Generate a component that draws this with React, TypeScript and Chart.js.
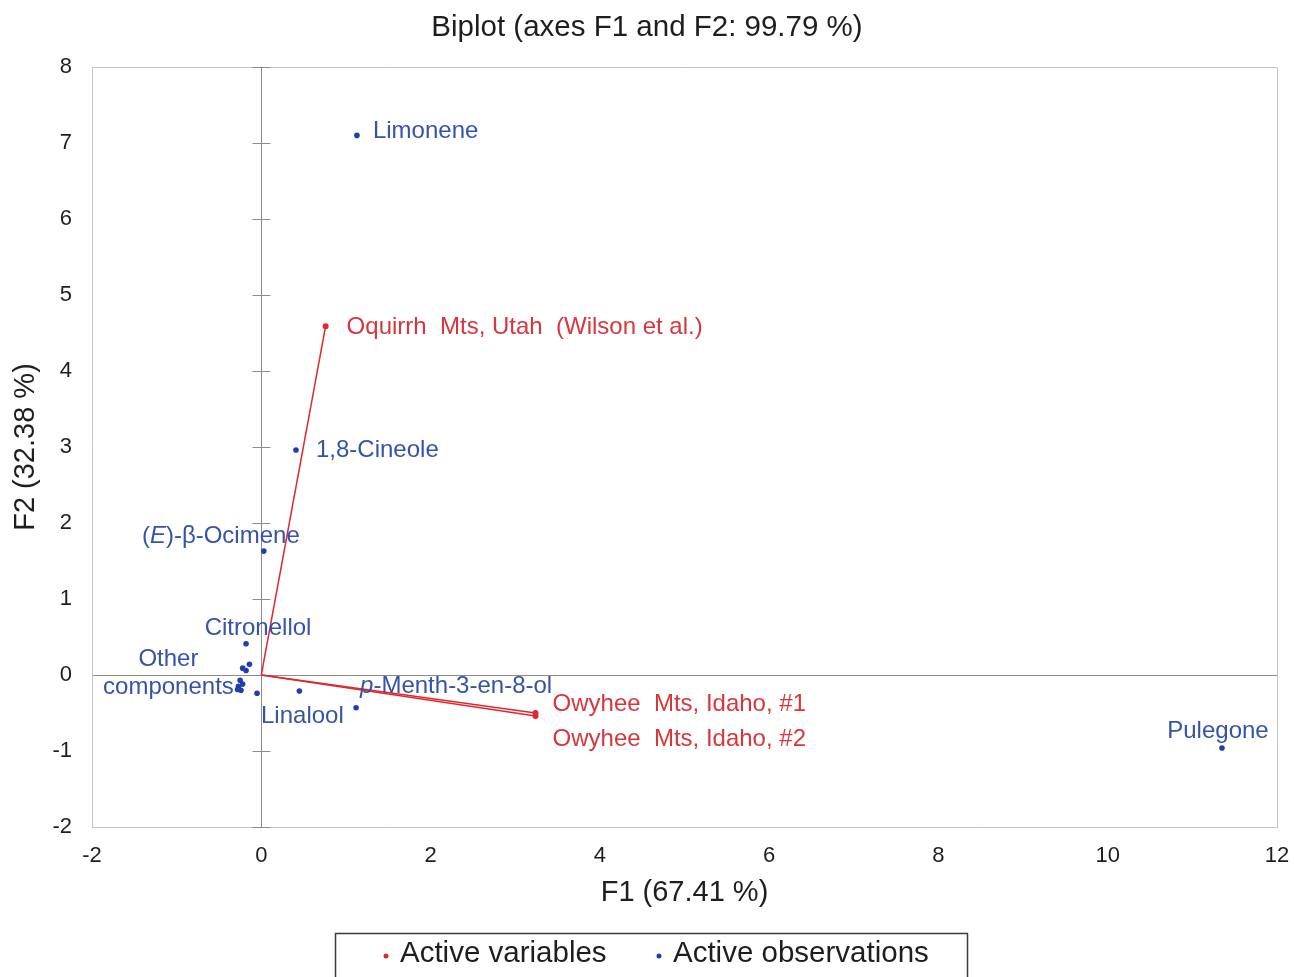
import React, { useEffect, useRef } from "react";
import { Chart, registerables } from "chart.js";

Chart.register(...registerables);

// ---------- data ----------
const chartTitle = "Biplot (axes F1 and F2: 99.79 %)";
const xAxisTitle = "F1 (67.41 %)";
const yAxisTitle = "F2 (32.38 %)";
const xMin = -2;
const xMax = 12;
const xStep = 2;
const yMin = -2;
const yMax = 8;
const yStep = 1;

const legendLabels = ["Active variables", "Active observations"];

const variableNames = [
  "Oquirrh  Mts, Utah  (Wilson et al.)",
  "Owyhee  Mts, Idaho, #1",
  "Owyhee  Mts, Idaho, #2",
];
const variableF1 = [0.76, 3.24, 3.24];
const variableF2 = [4.59, -0.5, -0.54];

const observationNames = [
  "Limonene",
  "1,8-Cineole",
  "(E)-β-Ocimene",
  "Citronellol",
  "Linalool",
  "p-Menth-3-en-8-ol",
  "Pulegone",
  "Other components",
  "",
  "",
  "",
  "",
  "",
  "",
  "",
  "",
];
const observationF1 = [1.13, 0.41, 0.03, -0.18, 0.45, 1.12, 11.35, -0.27, -0.14, -0.22, -0.18, -0.25, -0.24, -0.28, -0.22, -0.05];
const observationF2 = [7.1, 2.96, 1.63, 0.41, -0.21, -0.43, -0.96, -0.15, 0.14, 0.09, 0.06, -0.07, -0.2, -0.19, -0.12, -0.24];

// ---------- styles ----------
const FONT = "'Liberation Sans', Arial, sans-serif";
const RED = "#e0282e";
const RED_TEXT = "#d9363c";
const BLUE = "#1f3fb0";
const BLUE_TEXT = "#3553a8";
const TEXT = "#1e1e1e";
const AXIS_GREY = "#8c8c8c";
const FRAME_GREY = "#c4c4c4";

type LabelStyle = { dx: number; dy: number; align: CanvasTextAlign; italic?: [number, number]; lines?: string[] };
const labelStyles: Record<string, LabelStyle> = {
  "Oquirrh  Mts, Utah  (Wilson et al.)": { dx: 21, dy: 1, align: "left" },
  "Owyhee  Mts, Idaho, #1": { dx: 17, dy: -9, align: "left" },
  "Owyhee  Mts, Idaho, #2": { dx: 17, dy: 23, align: "left" },
  Limonene: { dx: 16, dy: -4, align: "left" },
  "1,8-Cineole": { dx: 20, dy: 0, align: "left" },
  "(E)-β-Ocimene": { dx: -43, dy: -15, align: "center", italic: [1, 2] },
  Citronellol: { dx: 12, dy: -15, align: "center" },
  Linalool: { dx: 3, dy: 25, align: "center" },
  "p-Menth-3-en-8-ol": { dx: 4, dy: -21, align: "left", italic: [0, 1] },
  Pulegone: { dx: -4, dy: -17, align: "center" },
  "Other components": { dx: -70, dy: -27, align: "center", lines: ["Other", "components"] },
};
const LABEL_FONT_SIZE = 24;

function drawRichText(
  ctx: CanvasRenderingContext2D,
  text: string,
  x: number,
  y: number,
  align: CanvasTextAlign,
  italic?: [number, number]
) {
  const normal = `${LABEL_FONT_SIZE}px ${FONT}`;
  const ital = `italic ${LABEL_FONT_SIZE}px ${FONT}`;
  const segs: { t: string; f: string }[] = [];
  if (italic) {
    segs.push({ t: text.slice(0, italic[0]), f: normal });
    segs.push({ t: text.slice(italic[0], italic[1]), f: ital });
    segs.push({ t: text.slice(italic[1]), f: normal });
  } else segs.push({ t: text, f: normal });
  let total = 0;
  for (const s of segs) {
    ctx.font = s.f;
    total += ctx.measureText(s.t).width;
  }
  let cx = align === "center" ? x - total / 2 : align === "right" ? x - total : x;
  ctx.textAlign = "left";
  ctx.textBaseline = "middle";
  for (const s of segs) {
    ctx.font = s.f;
    ctx.fillText(s.t, cx, y);
    cx += ctx.measureText(s.t).width;
  }
}

const decorPlugin = {
  id: "biplotDecor",
  beforeDatasetsDraw(chart: any) {
    const { ctx, chartArea: a, scales } = chart;
    const xs = scales.x;
    const ys = scales.y;
    ctx.save();
    ctx.strokeStyle = FRAME_GREY;
    ctx.lineWidth = 1;
    ctx.beginPath();
    ctx.moveTo(a.left, a.top + 0.5);
    ctx.lineTo(a.right + 0.5, a.top + 0.5);
    ctx.lineTo(a.right + 0.5, a.bottom);
    ctx.stroke();
    const x0 = Math.round(xs.getPixelForValue(0)) + 0.5;
    ctx.strokeStyle = AXIS_GREY;
    ctx.beginPath();
    for (let v = yMin; v <= yMax; v += yStep) {
      const py = Math.round(ys.getPixelForValue(v)) + 0.5;
      ctx.moveTo(x0 - 9, py);
      ctx.lineTo(x0 + 9, py);
    }
    ctx.stroke();
    ctx.restore();
  },
  afterDatasetsDraw(chart: any) {
    const { ctx, scales } = chart;
    const xs = scales.x;
    const ys = scales.y;
    ctx.save();
    variableNames.forEach((name, i) => {
      const st = labelStyles[name];
      if (!st) return;
      const px = xs.getPixelForValue(variableF1[i]);
      const py = ys.getPixelForValue(variableF2[i]);
      ctx.fillStyle = RED_TEXT;
      drawRichText(ctx, name, px + st.dx, py + st.dy, st.align, st.italic);
    });
    observationNames.forEach((name, i) => {
      if (!name) return;
      const st = labelStyles[name];
      if (!st) return;
      const px = xs.getPixelForValue(observationF1[i]);
      const py = ys.getPixelForValue(observationF2[i]);
      ctx.fillStyle = BLUE_TEXT;
      if (st.lines) {
        st.lines.forEach((ln, k) => {
          drawRichText(ctx, ln, px + st.dx, py + st.dy + k * 28, st.align);
        });
      } else {
        drawRichText(ctx, name, px + st.dx, py + st.dy, st.align, st.italic);
      }
    });
    ctx.restore();
  },
  afterDraw(chart: any) {
    const { ctx, chartArea: a, width } = chart;
    ctx.save();
    ctx.fillStyle = TEXT;
    ctx.textBaseline = "middle";
    ctx.textAlign = "center";
    ctx.font = `29.5px ${FONT}`;
    ctx.fillText(chartTitle, width / 2, 28);
    ctx.font = `29px ${FONT}`;
    ctx.fillText(xAxisTitle, (a.left + a.right) / 2, 893);
    ctx.save();
    ctx.translate(26, (a.top + a.bottom) / 2);
    ctx.rotate(-Math.PI / 2);
    ctx.fillText(yAxisTitle, 0, 0);
    ctx.restore();
    ctx.strokeStyle = "#3a3a3a";
    ctx.lineWidth = 1.5;
    ctx.strokeRect(335.5, 933.5, 632, 80);
    ctx.font = `29.5px ${FONT}`;
    ctx.textAlign = "left";
    const items = [
      { x: 386, color: RED, label: legendLabels[0] },
      { x: 659, color: BLUE, label: legendLabels[1] },
    ];
    items.forEach((it) => {
      ctx.fillStyle = it.color;
      ctx.beginPath();
      ctx.arc(it.x, 956, 2.5, 0, Math.PI * 2);
      ctx.fill();
      ctx.fillStyle = TEXT;
      ctx.fillText(it.label, it.x + 14, 954);
    });
    ctx.restore();
  },
};

export default function App() {
  const canvasRef = useRef<HTMLCanvasElement | null>(null);

  useEffect(() => {
    const canvas = canvasRef.current;
    if (!canvas) return;

    const variableDatasets = variableNames.map((name, i) => ({
      type: "line" as const,
      label: name,
      data: [
        { x: 0, y: 0 },
        { x: variableF1[i], y: variableF2[i] },
      ],
      borderColor: RED,
      borderWidth: 1.5,
      pointRadius: [0, 3],
      pointBackgroundColor: RED,
      pointBorderWidth: 0,
      showLine: true,
      fill: false,
    }));

    const observationDataset = {
      type: "scatter" as const,
      label: legendLabels[1],
      data: observationF1.map((x, i) => ({ x, y: observationF2[i] })),
      backgroundColor: BLUE,
      borderWidth: 0,
      pointRadius: 2.8,
    };

    const zeroGrid = (ctx: any) => (ctx.tick && ctx.tick.value === 0 ? AXIS_GREY : "rgba(0,0,0,0)");

    const chart = new Chart(canvas, {
      type: "scatter",
      data: { datasets: [observationDataset as any, ...(variableDatasets as any)] },
      options: {
        animation: false,
        responsive: false,
        maintainAspectRatio: false,
        layout: { padding: { top: 67, right: 17, left: 0, bottom: 0 } },
        plugins: {
          legend: { display: false },
          title: { display: false },
          tooltip: { enabled: false },
        },
        scales: {
          x: {
            type: "linear",
            min: xMin,
            max: xMax,
            ticks: {
              stepSize: xStep,
              color: TEXT,
              font: { family: FONT, size: 22 },
              padding: 16,
            },
            grid: { color: zeroGrid, drawTicks: false, lineWidth: 1 },
            border: { display: true, color: FRAME_GREY },
            afterFit: (s: any) => {
              s.height = 150;
              s.paddingLeft = 0;
              s.paddingRight = 0;
            },
          },
          y: {
            type: "linear",
            min: yMin,
            max: yMax,
            ticks: {
              stepSize: yStep,
              color: TEXT,
              font: { family: FONT, size: 22 },
              padding: 20,
            },
            grid: { color: zeroGrid, drawTicks: false, lineWidth: 1 },
            border: { display: true, color: FRAME_GREY },
            afterFit: (s: any) => {
              s.width = 92;
              s.paddingTop = 0;
              s.paddingBottom = 0;
            },
          },
        },
      },
      plugins: [decorPlugin],
    });

    return () => chart.destroy();
  }, []);

  return (
    <div style={{ position: "absolute", left: 0, top: 0, width: 1294, height: 977, background: "#fff" }}>
      <canvas ref={canvasRef} width={1294} height={977} style={{ width: 1294, height: 977 }} />
    </div>
  );
}
